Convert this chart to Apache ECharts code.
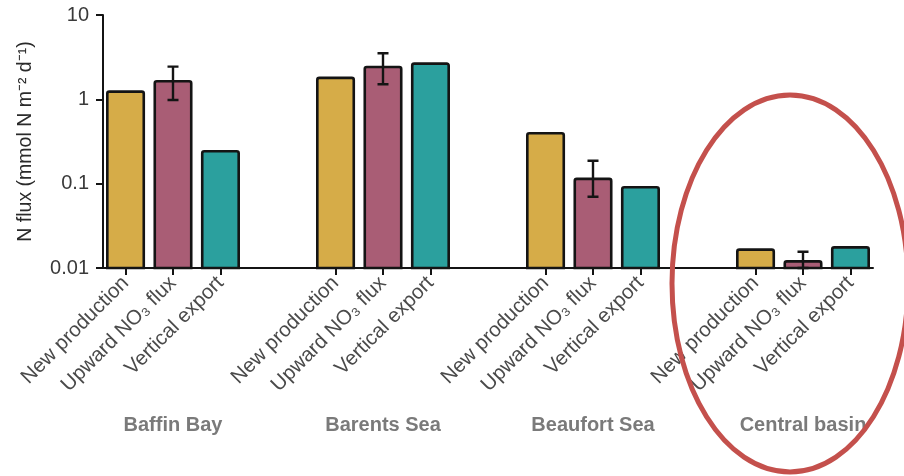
<!DOCTYPE html>
<html>
<head>
<meta charset="utf-8">
<title>N flux by region</title>
<script src="https://cdn.jsdelivr.net/npm/echarts@6/dist/echarts.min.js"></script>
<style>
  html, body { margin: 0; padding: 0; background: #fff; }
  #chart { width: 904px; height: 476px; }
</style>
</head>
<body>
<div id="chart"></div>
<script>
// Regions (groups along the x axis) and the three flux measures per region
const regions = ['Baffin Bay', 'Barents Sea', 'Beaufort Sea', 'Central basin'];
const measures = ['New production', 'Upward NO\u2083 flux', 'Vertical export'];

// N flux, mmol N m-2 d-1
const newProduction = [1.28, 1.86, 0.41, 0.0171];
const upwardNO3 = [1.70, 2.51, 0.118, 0.0124];
const upwardNO3Low = [0.98, 1.51, 0.070, 0.0100];
const upwardNO3High = [2.44, 3.52, 0.187, 0.0156];
const verticalExport = [0.251, 2.75, 0.094, 0.0182];

// Log axis ticks
const yTicks = [0.01, 0.1, 1, 10];

// Layout (x units: one unit per region)
const BAR_STEP = 0.226;
const BAR_WIDTH = 0.186;
const Y_MIN = 0.01, Y_MAX = 10;
const COLORS = ['#D6AC48', '#A95D75', '#2BA09E'];
const FONT = '"Liberation Sans", Arial, Helvetica, sans-serif';

const tickPositions = [];
regions.forEach((r, i) => measures.forEach((m, k) => tickPositions.push(+(i + (k - 1) * BAR_STEP).toFixed(4))));

function measureAt(v) {
  const i = Math.round(v);
  const k = Math.round((v - i) / BAR_STEP) + 1;
  return measures[k] || '';
}

function barRenderer(k) {
  return function (params, api) {
    const x = api.value(0) + (k - 1) * BAR_STEP;
    const top = api.coord([x, api.value(1)]);
    const base = api.coord([x, Y_MIN]);
    const left = api.coord([x - BAR_WIDTH / 2, api.value(1)])[0];
    const right = api.coord([x + BAR_WIDTH / 2, api.value(1)])[0];
    return {
      type: 'rect',
      shape: { x: left + 1.3, y: top[1] + 1.3, width: right - left - 2.6, height: base[1] - top[1] - 1.3, r: [2, 2, 0, 0] },
      style: { fill: COLORS[k], stroke: '#141414', lineWidth: 2.6 }
    };
  };
}

// Vertical range line with caps at both ends
function errorRenderer(params, api) {
  const x = api.value(0);
  const lo = api.coord([x, api.value(1)]);
  const hi = api.coord([x, api.value(2)]);
  const cap = 5.5;
  return {
    type: 'polyline',
    shape: {
      points: [
        [hi[0] - cap, hi[1]], [hi[0] + cap, hi[1]], [hi[0], hi[1]],
        [lo[0], lo[1]], [lo[0] - cap, lo[1]], [lo[0] + cap, lo[1]]
      ]
    },
    style: { fill: null, stroke: '#141414', lineWidth: 2.4 }
  };
}

const seriesValues = [newProduction, upwardNO3, verticalExport];
const series = seriesValues.map((vals, k) => ({
  type: 'custom',
  name: measures[k],
  renderItem: barRenderer(k),
  encode: { x: 0, y: 1 },
  data: vals.map((v, i) => [i, v]),
  z: 2
}));
series.push({
  type: 'custom',
  name: 'Upward NO\u2083 flux range',
  renderItem: errorRenderer,
  encode: { x: 0, y: 2 },
  dimensions: ['region', 'low', 'high'],
  data: regions.map((r, i) => [i, upwardNO3Low[i], upwardNO3High[i]]),
  z: 3
});

const chart = echarts.init(document.getElementById('chart'), null, { renderer: 'canvas' });
chart.setOption({
  animation: false,
  backgroundColor: '#ffffff',
  grid: { left: 103, right: 31, top: 15, bottom: 208, containLabel: false, outerBoundsMode: 'none' },
  xAxis: [{
    type: 'value',
    min: -1 / 3, max: 10 / 3,
    position: 'bottom',
    splitLine: { show: false },
    axisLine: { show: true, onZero: false, lineStyle: { color: '#141414', width: 2 } },
    axisTick: { show: true, customValues: tickPositions, length: 7, lineStyle: { color: '#141414', width: 2 } },
    axisLabel: {
      customValues: tickPositions,
      rotate: 45,
      margin: 12,
      formatter: measureAt,
      color: '#4a4a4a',
      fontFamily: FONT,
      fontSize: 20.5
    }
  }, {
    type: 'value',
    min: -1 / 3, max: 10 / 3,
    position: 'bottom',
    splitLine: { show: false },
    axisLine: { show: false, onZero: false },
    axisTick: { show: false },
    axisLabel: {
      customValues: [0, 1, 2, 3],
      margin: 147,
      formatter: v => regions[Math.round(v)],
      color: '#7a7a7a',
      fontFamily: FONT,
      fontWeight: 'bold',
      fontSize: 20
    }
  }],
  yAxis: {
    type: 'log',
    logBase: 10,
    min: Y_MIN, max: Y_MAX,
    position: 'left',
    name: 'N flux (mmol N m\u207B\u00B2 d\u207B\u00B9)',
    nameLocation: 'middle',
    nameRotate: 90,
    nameGap: 67,
    nameTextStyle: { color: '#2a2a2a', fontFamily: FONT, fontSize: 19.5 },
    splitLine: { show: false },
    axisLine: { show: true, onZero: false, lineStyle: { color: '#141414', width: 2 } },
    axisTick: { show: true, length: 7, lineStyle: { color: '#141414', width: 2 } },
    axisLabel: {
      customValues: yTicks,
      margin: 14,
      formatter: v => String(+v.toPrecision(2)),
      color: '#3a3a3a',
      fontFamily: FONT,
      fontSize: 20
    }
  },
  series: series,
  graphic: [{
    type: 'ellipse',
    z: 100,
    shape: { cx: 790, cy: 283.5, rx: 118, ry: 188.5 },
    style: { fill: 'none', stroke: '#C4504C', lineWidth: 5 }
  }]
});
</script>
</body>
</html>
